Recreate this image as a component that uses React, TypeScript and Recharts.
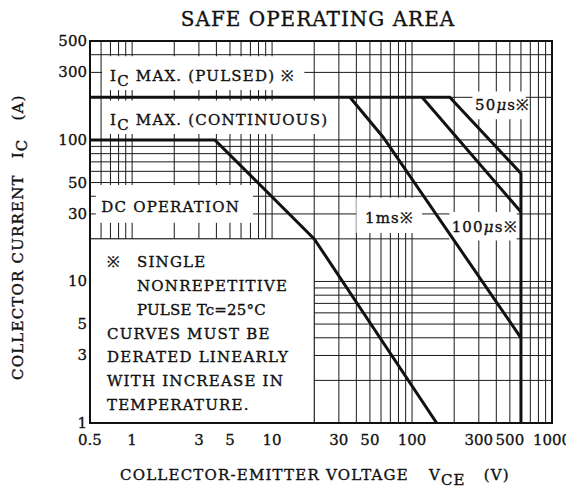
import React from 'react';
import { LineChart, Line, XAxis, YAxis, CartesianGrid, ReferenceArea } from 'recharts';

const FONT = '"DejaVu Serif", "Liberation Serif", serif';
const INK = '#111';

// Safe operating area boundaries: collector-emitter voltage (V) vs collector current (A)
const dcV = [0.5, 3.9, 20, 150];
const dcI = [100, 100, 20, 1];
const us50V = [0.5, 186, 600, 600];
const us50I = [200, 200, 58, 1];
const ms1V = [36, 62, 600];
const ms1I = [200, 105, 4];
const us100V = [118, 600];
const us100I = [200, 31];

// Axis ticks and log grid
const xTicks = [0.5, 1, 3, 5, 10, 30, 50, 100, 300, 500, 1000];
const yTicks = [1, 3, 5, 10, 30, 50, 100, 300, 500];
const xGrid = [0.6, 0.7, 0.8, 0.9, 1, 2, 3, 4, 5, 6, 7, 8, 9, 10, 20, 30, 40, 50, 60, 70, 80, 90, 100, 200, 300, 400, 500, 600, 700, 800, 900];
const yGrid = [2, 3, 4, 5, 6, 7, 8, 9, 10, 20, 30, 40, 50, 60, 70, 80, 90, 100, 200, 300, 400];

// Annotation boxes (data coordinates)
const pulsedBox = { v: [0.61, 17], i: [225, 390] };
const contBox = { v: [0.61, 28], i: [110, 190] };
const dcBox = { v: [0.55, 7.3], i: [26, 48] };
const us50Box = { v: [270, 650], i: [140, 220] };
const ms1Box = { v: [40, 118], i: [22, 39] };
const us100Box = { v: [185, 560], i: [19.5, 31] };
const noteBox = { v: [0.5, 20], i: [1, 20] };

const zip = (v: number[], i: number[]) => v.map((x, k) => ({ v: x, i: i[k] }));

const txt = {
  fontFamily: FONT,
  fontSize: 15,
  letterSpacing: 1.2,
  fill: INK,
  stroke: INK,
  strokeWidth: 0.35,
} as const;

const boxLabel = (dx: number, up: number, content: React.ReactNode) => (props: any) => {
  const vb = props.viewBox || {};
  return (
    <text x={vb.x + dx} y={vb.y + vb.height - up} {...txt}>
      {content}
    </text>
  );
};

const NoteLabel = (props: any) => {
  const vb = props.viewBox || {};
  const x0 = vb.x;
  const y0 = vb.y;
  const lh = 23.9;
  return (
    <g>
      <text x={x0 + 17} y={y0 + 28} {...txt}>※</text>
      <text x={x0 + 47} y={y0 + 28} {...txt}>SINGLE</text>
      <text x={x0 + 47} y={y0 + 28 + lh} {...txt}>NONREPETITIVE</text>
      <text x={x0 + 47} y={y0 + 28 + lh * 2} {...txt} letterSpacing={0.2}>PULSE Tc=25°C</text>
      <text x={x0 + 17} y={y0 + 28 + lh * 3} {...txt}>CURVES MUST BE</text>
      <text x={x0 + 17} y={y0 + 28 + lh * 4} {...txt}>DERATED LINEARLY</text>
      <text x={x0 + 17} y={y0 + 28 + lh * 5} {...txt}>WITH INCREASE IN</text>
      <text x={x0 + 17} y={y0 + 28 + lh * 6} {...txt}>TEMPERATURE.</text>
    </g>
  );
};

const XTick = (props: any) => {
  const { x, y, payload } = props;
  return (
    <text x={x} y={y + 22} textAnchor="middle" fontFamily={FONT} fontSize={15} fill={INK} stroke={INK} strokeWidth={0.3}>
      {String(payload.value)}
    </text>
  );
};

const YTick = (props: any) => {
  const { x, y, payload } = props;
  return (
    <text x={x - 3} y={y + 5} textAnchor="end" fontFamily={FONT} fontSize={15} fill={INK} stroke={INK} strokeWidth={0.3}>
      {String(payload.value)}
    </text>
  );
};

const whiteBox = (b: { v: number[]; i: number[] }, label: any, key: string) => (
  <ReferenceArea
    key={key}
    x1={b.v[0]}
    x2={b.v[1]}
    y1={b.i[0]}
    y2={b.i[1]}
    fill="#ffffff"
    fillOpacity={1}
    stroke="none"
    label={label}
  />
);

export default function App() {
  const lineProps = {
    type: 'linear' as const,
    dataKey: 'i',
    stroke: INK,
    strokeWidth: 3,
    dot: false,
    activeDot: false,
    isAnimationActive: false,
    strokeLinejoin: 'miter' as const,
  };
  return (
    <div style={{ width: 566, height: 482 }}>
      <LineChart width={566} height={482} margin={{ top: 33, right: 22, left: 22, bottom: 37 }}>
        <CartesianGrid
          stroke="#1a1a1a"
          strokeWidth={1}
          horizontalValues={yGrid}
          verticalValues={xGrid}
          syncWithTicks={false}
        />
        <XAxis
          dataKey="v"
          type="number"
          scale="log"
          domain={[0.5, 1000]}
          allowDataOverflow
          ticks={xTicks}
          interval={0}
          tick={<XTick />}
          tickLine={false}
          axisLine={false}
          tickSize={0}
          tickMargin={0}
          height={30}
        />
        <YAxis
          type="number"
          scale="log"
          domain={[1, 500]}
          allowDataOverflow
          ticks={yTicks}
          interval={0}
          tick={<YTick />}
          tickLine={false}
          axisLine={false}
          tickSize={0}
          tickMargin={0}
          width={60}
        />
        {whiteBox(
          pulsedBox,
          boxLabel(8, 9.2, (
            <>
              <tspan>I</tspan>
              <tspan dy={5}>C</tspan>
              <tspan dy={-5}> MAX. (PULSED) ※</tspan>
            </>
          )),
          'pulsed'
        )}
        {whiteBox(
          contBox,
          boxLabel(8, 9.1, (
            <>
              <tspan>I</tspan>
              <tspan dy={5}>C</tspan>
              <tspan dy={-5}> MAX. (CONTINUOUS)</tspan>
            </>
          )),
          'cont'
        )}
        {whiteBox(dcBox, boxLabel(5.5, 11.1, 'DC OPERATION'), 'dc')}
        {whiteBox(
          us50Box,
          boxLabel(2.5, 9.6, (
            <>
              <tspan>50</tspan>
              <tspan fontStyle="italic">μ</tspan>
              <tspan>s※</tspan>
            </>
          )),
          'us50'
        )}
        {whiteBox(ms1Box, boxLabel(8.6, 10.3, '1ms※'), 'ms1')}
        {whiteBox(
          us100Box,
          boxLabel(2.2, 8.8, (
            <>
              <tspan>100</tspan>
              <tspan fontStyle="italic">μ</tspan>
              <tspan>s※</tspan>
            </>
          )),
          'us100'
        )}
        <ReferenceArea
          x1={noteBox.v[0]}
          x2={noteBox.v[1]}
          y1={noteBox.i[0]}
          y2={noteBox.i[1]}
          fill="#ffffff"
          fillOpacity={1}
          stroke="#1a1a1a"
          strokeWidth={1}
          label={NoteLabel}
        />
        <Line {...lineProps} data={zip(dcV, dcI)} name="DC" />
        <Line {...lineProps} data={zip(us50V, us50I)} name="50us" />
        <Line {...lineProps} data={zip(ms1V, ms1I)} name="1ms" />
        <Line {...lineProps} data={zip(us100V, us100I)} name="100us" />
        <ReferenceArea
          x1={0.5}
          x2={1000}
          y1={1}
          y2={500}
          fill="none"
          fillOpacity={0}
          stroke={INK}
          strokeWidth={2}
        />
        <text x={310} y={18} textAnchor="middle" fontFamily={FONT} fontSize={20} letterSpacing={1} fill={INK} stroke={INK} strokeWidth={0.35}>
          SAFE OPERATING AREA
        </text>
        <text x={112} y={472} {...txt}>
          COLLECTOR-EMITTER VOLTAGE
          <tspan dx={20}>V</tspan>
          <tspan dy={5}>CE</tspan>
          <tspan dy={-5} dx={18}>(V)</tspan>
        </text>
        <text transform="rotate(-90)" x={-372} y={15} {...txt}>
          COLLECTOR CURRENT
          <tspan dx={16}>I</tspan>
          <tspan dy={4}>C</tspan>
          <tspan dy={-4} dx={18}>(A)</tspan>
        </text>
      </LineChart>
    </div>
  );
}
